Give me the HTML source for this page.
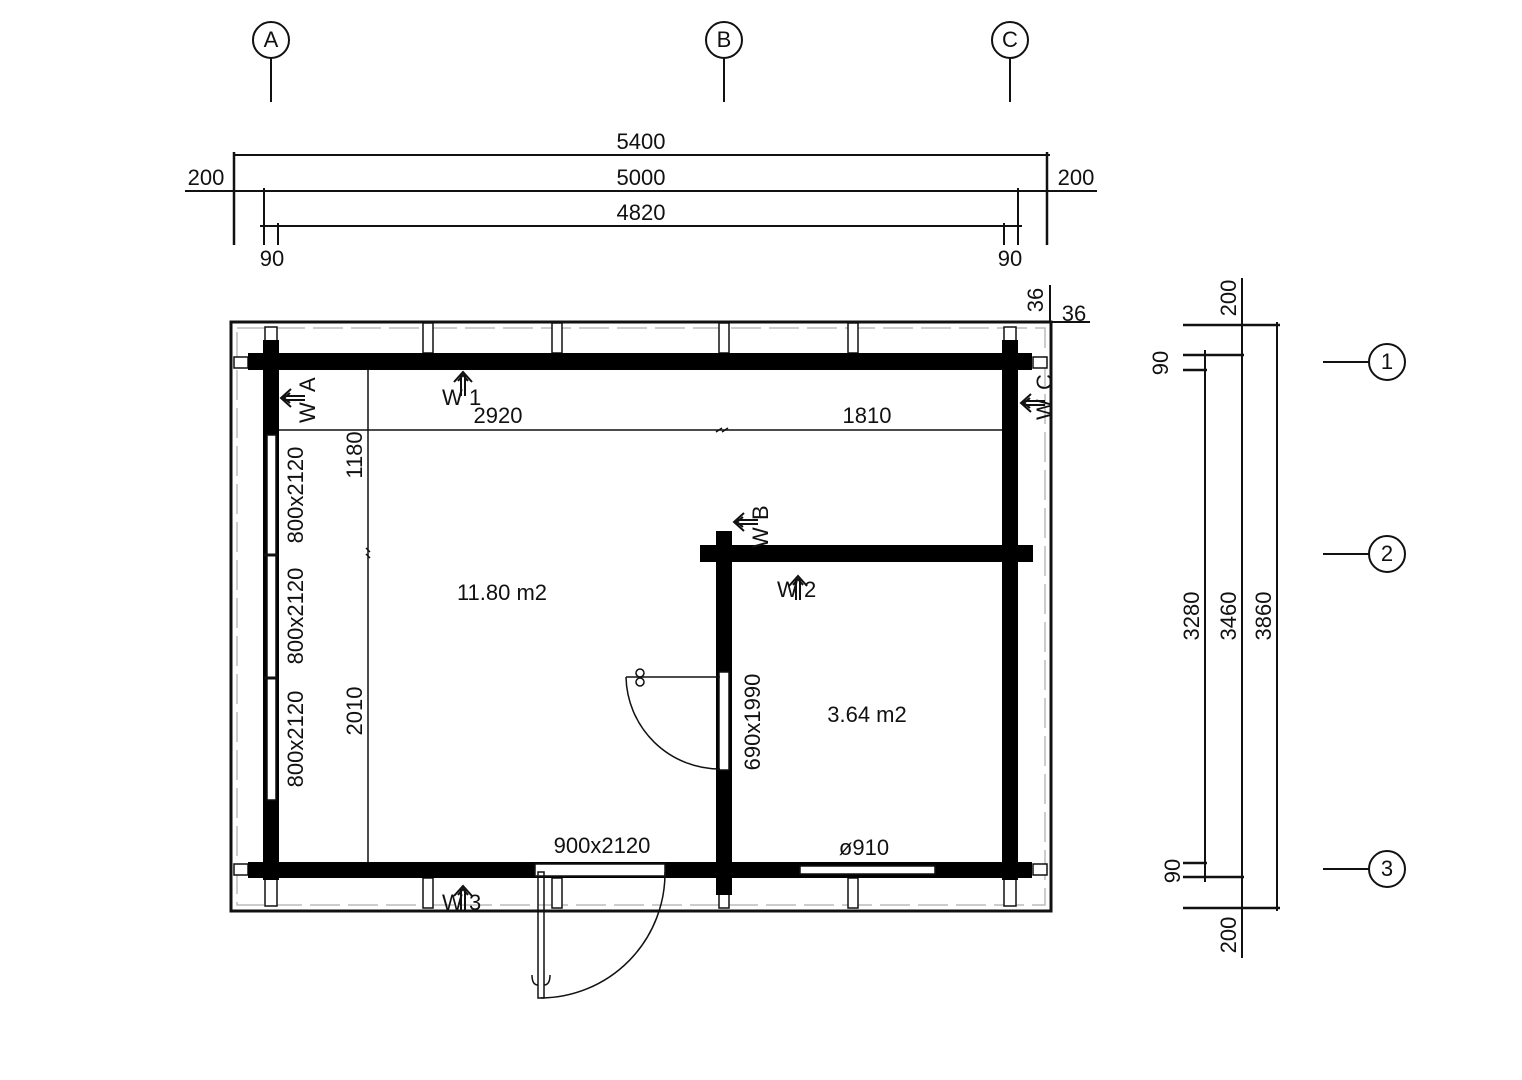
<!DOCTYPE html>
<html><head><meta charset="utf-8"><style>
html,body{margin:0;padding:0;background:#fff}
svg{display:block}
text{font-family:"Liberation Sans",sans-serif;font-size:22px;fill:#111}
</style></head><body>
<svg width="1522" height="1080" viewBox="0 0 1522 1080" xmlns="http://www.w3.org/2000/svg">
<defs>
<g id="arr"><path d="M-2,0 V-22 M2,0 V-22 M-9,-14 L0,-24 L9,-14 M-5,-15 L0,-21 L5,-15" stroke="#111" stroke-width="2" fill="none"/></g>
</defs>
<g stroke="#111" fill="none" stroke-width="2">
<circle cx="271" cy="40" r="18"/><line x1="271" y1="58" x2="271" y2="102"/>
<circle cx="724" cy="40" r="18"/><line x1="724" y1="58" x2="724" y2="102"/>
<circle cx="1010" cy="40" r="18"/><line x1="1010" y1="58" x2="1010" y2="102"/>
<circle cx="1387" cy="362" r="18"/><line x1="1323" y1="362" x2="1369" y2="362"/>
<circle cx="1387" cy="554" r="18"/><line x1="1323" y1="554" x2="1369" y2="554"/>
<circle cx="1387" cy="869" r="18"/><line x1="1323" y1="869" x2="1369" y2="869"/>
<line x1="234" y1="155" x2="1050" y2="155"/>
<line x1="185" y1="191" x2="1097" y2="191"/>
<line x1="260" y1="226" x2="1022" y2="226"/>
<line x1="234" y1="152" x2="234" y2="245" stroke-width="2.5"/>
<line x1="1047" y1="152" x2="1047" y2="245" stroke-width="2.5"/>
<line x1="264" y1="188" x2="264" y2="245"/>
<line x1="1018" y1="188" x2="1018" y2="245"/>
<line x1="278" y1="223" x2="278" y2="245"/>
<line x1="1004" y1="223" x2="1004" y2="245"/>
<line x1="1205" y1="350" x2="1205" y2="882"/>
<line x1="1242" y1="278" x2="1242" y2="958"/>
<line x1="1277" y1="322" x2="1277" y2="911"/>
<line x1="1183" y1="325" x2="1280" y2="325" stroke-width="2.5"/>
<line x1="1183" y1="355" x2="1244" y2="355" stroke-width="2.5"/>
<line x1="1183" y1="370" x2="1207" y2="370" stroke-width="2.5"/>
<line x1="1183" y1="863" x2="1207" y2="863" stroke-width="2.5"/>
<line x1="1183" y1="877" x2="1244" y2="877" stroke-width="2.5"/>
<line x1="1183" y1="908" x2="1280" y2="908" stroke-width="2.5"/>
<line x1="1050" y1="285" x2="1050" y2="322"/>
<line x1="1050" y1="322" x2="1090" y2="322"/>
<rect x="231" y="322" width="820" height="589" stroke-width="3"/>
<rect x="237" y="328" width="808" height="577" stroke="#bbb" stroke-width="1.5" stroke-dasharray="30 8"/>
<line x1="279" y1="430" x2="1002" y2="430" stroke-width="1.5"/>
<line x1="368" y1="370" x2="368" y2="862" stroke-width="1.5"/>
<g stroke-width="1.5" fill="#fff">
<rect x="423" y="323" width="10" height="30"/><rect x="552" y="323" width="10" height="30"/>
<rect x="719" y="323" width="10" height="30"/><rect x="848" y="323" width="10" height="30"/>
<rect x="265" y="327" width="12" height="26"/><rect x="1004" y="327" width="12" height="26"/>
<rect x="423" y="878" width="10" height="30"/><rect x="552" y="878" width="10" height="30"/>
<rect x="719" y="878" width="10" height="30"/><rect x="848" y="878" width="10" height="30"/>
<rect x="265" y="878" width="12" height="28"/><rect x="1004" y="878" width="12" height="28"/>
<rect x="234" y="357" width="14" height="11"/><rect x="1033" y="357" width="14" height="11"/>
<rect x="234" y="864" width="14" height="11"/><rect x="1033" y="864" width="14" height="11"/>
</g>
</g>
<g fill="#000">
<rect x="248" y="353" width="784" height="17"/>
<rect x="248" y="862" width="784" height="16"/>
<rect x="263" y="340" width="16" height="540"/>
<rect x="1002" y="340" width="16" height="540"/>
<rect x="700" y="545" width="333" height="17"/>
<rect x="716" y="531" width="16" height="364"/>
</g>
<g stroke="#111" fill="#fff" stroke-width="1.5">
<rect x="267" y="435" width="9" height="365"/>
<line x1="264" y1="555" x2="278" y2="555" stroke-width="3"/>
<line x1="264" y1="678" x2="278" y2="678" stroke-width="3"/>
<rect x="535" y="864" width="130" height="12"/>
<rect x="800" y="866" width="135" height="8"/>
<rect x="719" y="672" width="10" height="98"/>
</g>
<g stroke="#111" fill="none" stroke-width="1.5">
<rect x="538" y="872" width="6" height="126"/>
<path d="M541,998 A125,125 0 0 0 665,872"/>
<path d="M532,975 q0,10 6,10 M550,975 q0,10 -6,10"/>
<line x1="626" y1="677" x2="720" y2="677"/>
<path d="M626,677 A94,94 0 0 0 720,769"/>
<circle cx="640" cy="673" r="4"/><circle cx="640" cy="682" r="4"/>
<path d="M716,432 l6,-4 M722,432 l6,-4 M366,548 l4,4 M366,554 l4,4"/>
</g>
<use href="#arr" x="463" y="396"/>
<use href="#arr" x="798" y="600"/>
<use href="#arr" x="463" y="910"/>
<use href="#arr" transform="translate(305,398) rotate(-90)"/>
<use href="#arr" transform="translate(1045,403) rotate(-90)"/>
<use href="#arr" transform="translate(758,522) rotate(-90)"/>
<text x="641" y="149" text-anchor="middle">5400</text>
<text x="641" y="185" text-anchor="middle">5000</text>
<text x="641" y="220" text-anchor="middle">4820</text>
<text x="206" y="185" text-anchor="middle">200</text>
<text x="1076" y="185" text-anchor="middle">200</text>
<text x="272" y="266" text-anchor="middle">90</text>
<text x="1010" y="266" text-anchor="middle">90</text>
<text x="1074" y="321" text-anchor="middle">36</text>
<text transform="translate(1043,300) rotate(-90)" text-anchor="middle">36</text>
<text x="271" y="47" text-anchor="middle" font-size="19">A</text>
<text x="724" y="47" text-anchor="middle" font-size="19">B</text>
<text x="1010" y="47" text-anchor="middle" font-size="19">C</text>
<text x="1387" y="369" text-anchor="middle" font-size="19">1</text>
<text x="1387" y="561" text-anchor="middle" font-size="19">2</text>
<text x="1387" y="876" text-anchor="middle" font-size="19">3</text>
<text x="498" y="423" text-anchor="middle">2920</text>
<text x="867" y="423" text-anchor="middle">1810</text>
<text x="442" y="405">W</text><text x="469" y="405">1</text>
<text x="777" y="597">W</text><text x="804" y="597">2</text>
<text x="442" y="910">W</text><text x="469" y="910">3</text>
<text transform="translate(315,423) rotate(-90)">W</text>
<text transform="translate(315,392) rotate(-90)">A</text>
<text transform="translate(1052,420) rotate(-90)">W</text>
<text transform="translate(1052,390) rotate(-90)">C</text>
<text transform="translate(768,548) rotate(-90)">W</text>
<text transform="translate(768,520) rotate(-90)">B</text>
<text transform="translate(362,455) rotate(-90)" text-anchor="middle">1180</text>
<text transform="translate(362,711) rotate(-90)" text-anchor="middle">2010</text>
<text transform="translate(303,495) rotate(-90)" text-anchor="middle">800x2120</text>
<text transform="translate(303,616) rotate(-90)" text-anchor="middle">800x2120</text>
<text transform="translate(303,739) rotate(-90)" text-anchor="middle">800x2120</text>
<text transform="translate(760,722) rotate(-90)" text-anchor="middle">690x1990</text>
<text x="502" y="600" text-anchor="middle" font-size="25">11.80 m2</text>
<text x="867" y="722" text-anchor="middle" font-size="25">3.64 m2</text>
<text x="602" y="853" text-anchor="middle">900x2120</text>
<text x="864" y="855" text-anchor="middle">ø910</text>
<text transform="translate(1199,616) rotate(-90)" text-anchor="middle">3280</text>
<text transform="translate(1236,616) rotate(-90)" text-anchor="middle">3460</text>
<text transform="translate(1271,616) rotate(-90)" text-anchor="middle">3860</text>
<text transform="translate(1236,298) rotate(-90)" text-anchor="middle">200</text>
<text transform="translate(1236,935) rotate(-90)" text-anchor="middle">200</text>
<text transform="translate(1168,363) rotate(-90)" text-anchor="middle">90</text>
<text transform="translate(1180,871) rotate(-90)" text-anchor="middle">90</text>
</svg>
</body></html>
